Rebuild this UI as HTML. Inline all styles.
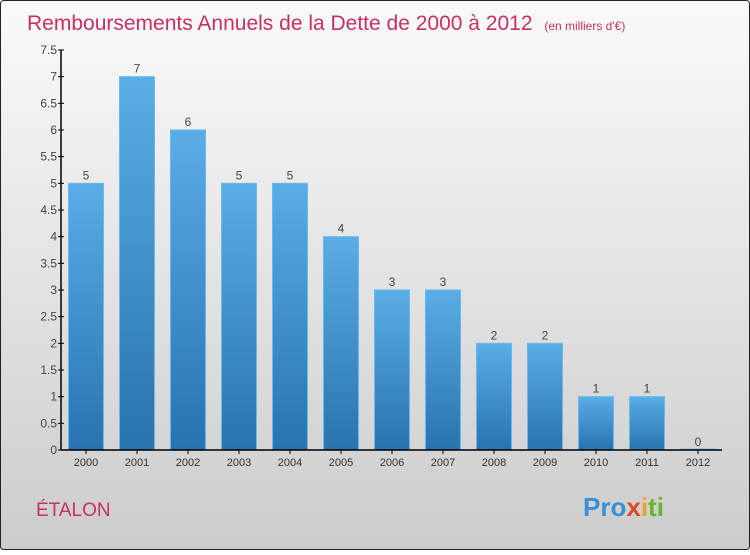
<!DOCTYPE html>
<html><head><meta charset="utf-8"><style>
body{margin:0;width:750px;height:550px;overflow:hidden;font-family:"Liberation Sans",sans-serif}
</style></head><body>
<svg width="750" height="550" xmlns="http://www.w3.org/2000/svg">
<defs>
<linearGradient id="bg" x1="0" y1="0" x2="0" y2="1"><stop offset="0" stop-color="#fafafa"/><stop offset="1" stop-color="#cccccc"/></linearGradient>
<linearGradient id="bar" x1="0" y1="0" x2="0" y2="1"><stop offset="0" stop-color="#5aade6"/><stop offset="1" stop-color="#2873b0"/></linearGradient>
</defs>
<rect x="0.5" y="0.5" width="749" height="549" rx="3" fill="url(#bg)" stroke="#222"/>
<text x="27" y="30" font-size="21" fill="#c8305f">Remboursements Annuels de la Dette de 2000 à 2012 <tspan font-size="12" dx="6">(en milliers d'€)</tspan></text>
<text x="36" y="516" font-size="19" fill="#c8305f">ÉTALON</text>
<text x="583" y="516" font-size="26" font-weight="bold"><tspan fill="#3a8fd6">Pro</tspan><tspan fill="#e0462a">x</tspan><tspan fill="#f0a020">i</tspan><tspan fill="#6ab42a">ti</tspan></text>
<g id="plot"></g>
</svg>
<script>
const categories=["2000","2001","2002","2003","2004","2005","2006","2007","2008","2009","2010","2011","2012"];
const values=[5,7,6,5,5,4,3,3,2,2,1,1,0];
const yTicks=[0,0.5,1,1.5,2,2.5,3,3.5,4,4.5,5,5.5,6,6.5,7,7.5];
const yTickLabels=["0","0.5","1","1.5","2","2.5","3","3.5","4","4.5","5","5.5","6","6.5","7","7.5"];
const NS="http://www.w3.org/2000/svg";
const g=document.getElementById('plot');
const y0=450,ppu=400/7.5,x0=61;
const y=v=>y0-v*ppu;
const xc=i=>86+i*51;
function mk(t,a){const e=document.createElementNS(NS,t);for(const k in a)e.setAttribute(k,a[k]);g.appendChild(e);return e;}
values.forEach((v,i)=>{
 const h=Math.max(v*ppu,1);
 const r=mk('rect',{x:xc(i)-17.5,y:y0-h,width:35,height:h,fill:'url(#bar)',stroke:'#6bb8ec','stroke-width':1});
 
 
 const t=mk('text',{x:xc(i),y:y(v)-4,'text-anchor':'middle','font-size':12,fill:'#444'});
 t.textContent=String(v);
 
 
 const c=mk('text',{x:xc(i),y:466,'text-anchor':'middle','font-size':11,fill:'#333'});
 c.textContent=categories[i];
 
 
 const tk=mk('line',{x1:xc(i),x2:xc(i),y1:y0,y2:y0+4,stroke:'#000'});
 
 
});
yTicks.forEach((v,i)=>{
 const l=mk('line',{x1:x0-3,x2:x0+3,y1:y(v),y2:y(v),stroke:'#000'});
 
 
 const t=mk('text',{x:x0-4,y:y(v)+4,'text-anchor':'end','font-size':12,fill:'#444'});
 t.textContent=yTickLabels[i];
 
 
});
const ya=mk('line',{x1:x0,x2:x0,y1:y(7.5),y2:y0,stroke:'#000','stroke-width':1.5});


const xa=mk('line',{x1:x0,x2:722,y1:y0,y2:y0,stroke:'#000','stroke-width':1.5});


</script>
</body></html>
